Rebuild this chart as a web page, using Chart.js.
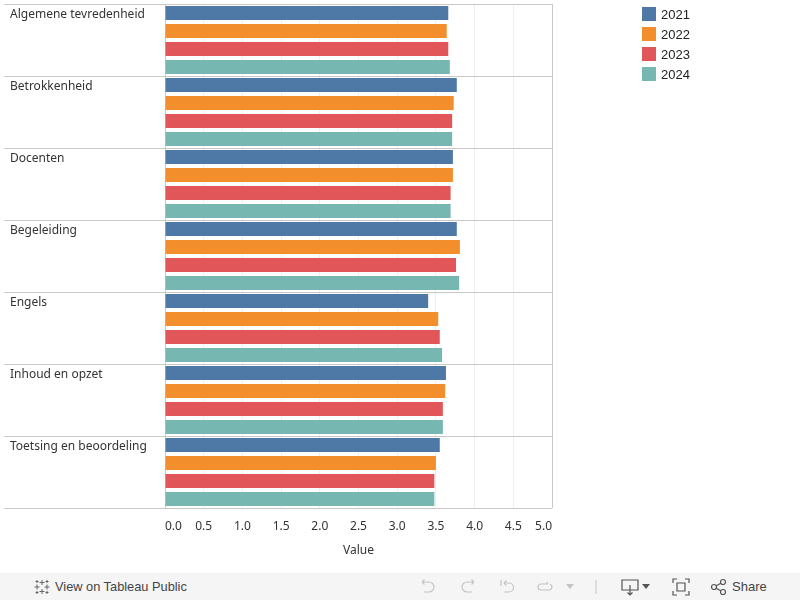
<!DOCTYPE html>
<html>
<head>
<meta charset="utf-8">
<script src="https://cdn.jsdelivr.net/npm/chart.js@4"></script>
<style>
  html, body { margin: 0; padding: 0; background: #fff; }
  #wrap { position: absolute; left: 0; top: 0; width: 800px; height: 573px; }
  #footer {
    position: absolute; left: 0; top: 573px; width: 800px; height: 27px;
    background: #f5f5f5; font-family: "Liberation Sans", Arial, sans-serif;
    font-size: 12.8px; color: #444;
  }
  #footer .item { position: absolute; top: 0; height: 27px; line-height: 27px; }
  #footer svg { position: absolute; }
</style>
</head>
<body>
<div id="wrap"><canvas id="chart" width="800" height="573"></canvas></div>
<div id="footer">
  <svg style="left:33px;top:5px" width="18" height="18" viewBox="0 0 18 18" stroke="#666" stroke-width="1" fill="none">
    <path d="M9 2v5M6.5 4.5h5M9 11v5M6.5 13.5h5M4 6.5v5M1.5 9h5M14 6.5v5M11.5 9h5M4 2v3M2.5 3.5h3M14 2v3M12.5 3.5h3M4 13v3M2.5 14.5h3M14 13v3M12.5 14.5h3"/>
  </svg>
  <span class="item" style="left:55px">View on Tableau Public</span>
  <svg style="left:419px;top:6px" width="18" height="16" viewBox="0 0 18 16" stroke="#c4c4c4" stroke-width="1.2" fill="none">
    <path d="M3 3h7a5 5 0 0 1 0 10H5M3 3l2.5-2.5M3 3l2.5 2.5"/>
  </svg>
  <svg style="left:459px;top:6px" width="18" height="16" viewBox="0 0 18 16" stroke="#c4c4c4" stroke-width="1.2" fill="none">
    <path d="M15 3H8a5 5 0 0 0 0 10h5M15 3l-2.5-2.5M15 3l-2.5 2.5"/>
  </svg>
  <svg style="left:499px;top:6px" width="18" height="16" viewBox="0 0 18 16" stroke="#c4c4c4" stroke-width="1.2" fill="none">
    <path d="M5 4h5a4.5 4.5 0 0 1 0 9H5M5 4l2.5-2.5M5 4l2.5 2.5M2 1v6"/>
  </svg>
  <svg style="left:536px;top:6px" width="18" height="16" viewBox="0 0 18 16" stroke="#c4c4c4" stroke-width="1.2" fill="none">
    <path d="M12 5H5a3 3 0 0 0 0 6h8a3 3 0 0 0 1-5.8M12 5l-1.5-2"/>
  </svg>
  <svg style="left:566px;top:11px" width="8" height="6" viewBox="0 0 8 6" fill="#c4c4c4"><path d="M0 0h8L4 5z"/></svg>
  <svg style="left:595px;top:7px" width="2" height="14" viewBox="0 0 2 14" stroke="#c4c4c4"><path d="M1 0v14"/></svg>
  <svg style="left:621px;top:6px" width="20" height="18" viewBox="0 0 20 18" stroke="#555" stroke-width="1.2" fill="none">
    <path d="M1 1h16v10H1zM9 6v10M6.5 13.5L9 16l2.5-2.5"/>
  </svg>
  <svg style="left:642px;top:11px" width="8" height="6" viewBox="0 0 8 6" fill="#555"><path d="M0 0h8L4 5z"/></svg>
  <svg style="left:672px;top:5px" width="18" height="18" viewBox="0 0 18 18" stroke="#555" stroke-width="1.2" fill="none">
    <path d="M1 5V1h4M13 1h4v4M17 13v4h-4M5 17H1v-4M5 5h8v8H5z"/>
  </svg>
  <svg style="left:710px;top:5px" width="18" height="18" viewBox="0 0 18 18" stroke="#555" stroke-width="1.2" fill="none">
    <circle cx="4" cy="9" r="2.5"/><circle cx="13" cy="4" r="2.5"/><circle cx="13" cy="14" r="2.5"/><path d="M6.2 7.8l4.6-2.6M6.2 10.2l4.6 2.6"/>
  </svg>
  <span class="item" style="left:732px;font-size:13px">Share</span>
</div>
<script>
// categories (rows) and years
const categories = ['Algemene tevredenheid', 'Betrokkenheid', 'Docenten', 'Begeleiding', 'Engels', 'Inhoud en opzet', 'Toetsing en beoordeling'];
const years = ['2021', '2022', '2023', '2024'];
const colors = ['#4e79a7', '#f28e2b', '#e15759', '#76b7b2'];

// values per year, same order as categories
const values2021 = [3.66, 3.77, 3.72, 3.77, 3.40, 3.63, 3.55];
const values2022 = [3.64, 3.73, 3.72, 3.81, 3.53, 3.62, 3.50];
const values2023 = [3.66, 3.71, 3.69, 3.76, 3.55, 3.59, 3.48];
const values2024 = [3.68, 3.71, 3.69, 3.80, 3.58, 3.59, 3.48];
const seriesValues = [values2021, values2022, values2023, values2024];

const xMin = 0, xMax = 5, xStep = 0.5;

const labelFont = '12px "Noto Sans", sans-serif';
const textColor = '#333';

// row labels drawn at the top-left of each band, Tableau style
const rowLabels = {
  id: 'rowLabels',
  afterDraw(chart) {
    const ctx = chart.ctx;
    const y = chart.scales.y;
    const band = y.getPixelForValue(1) - y.getPixelForValue(0);
    ctx.save();
    ctx.font = labelFont;
    ctx.fillStyle = textColor;
    ctx.textAlign = 'left';
    ctx.textBaseline = 'middle';
    categories.forEach((c, i) => {
      const top = y.getPixelForValue(i) - band / 2;
      ctx.fillText(c, 10, top + 11);
    });
    ctx.restore();
  }
};

// legend in the right column
const sideLegend = {
  id: 'sideLegend',
  afterDraw(chart) {
    const ctx = chart.ctx;
    ctx.save();
    ctx.font = '13px "Liberation Sans", Arial, sans-serif';
    ctx.textBaseline = 'middle';
    chart.data.datasets.forEach((ds, i) => {
      const cy = 14 + i * 20;
      ctx.fillStyle = ds.backgroundColor;
      ctx.fillRect(642, cy - 7, 14, 14);
      ctx.fillStyle = '#222';
      ctx.fillText(ds.label, 661, cy + 1);
    });
    ctx.restore();
  }
};

new Chart(document.getElementById('chart'), {
  type: 'bar',
  data: {
    labels: categories,
    datasets: years.map((yr, i) => ({
      label: yr,
      data: seriesValues[i],
      backgroundColor: colors[i],
      borderWidth: 0,
      categoryPercentage: 1,
      barPercentage: 14 / 18
    }))
  },
  options: {
    indexAxis: 'y',
    responsive: false,
    animation: false,
    layout: { padding: { left: 4, top: 4, right: 248, bottom: 0 } },
    plugins: {
      legend: { display: false },
      tooltip: { enabled: false }
    },
    scales: {
      x: {
        min: xMin,
        max: xMax,
        afterFit: s => { s.height = 65; },
        ticks: {
          stepSize: xStep,
          align: 'inner',
          padding: 11,
          color: textColor,
          font: { family: '"Noto Sans", sans-serif', size: 12 },
          callback: v => Number(v).toFixed(1)
        },
        grid: {
          drawTicks: false,
          color: ctx => (ctx.tick && ctx.tick.value === xMax) ? '#c8c8c8' : '#efefef'
        },
        border: { display: false },
        title: {
          display: true,
          text: 'Value',
          color: textColor,
          font: { family: '"Noto Sans", sans-serif', size: 12 },
          padding: { top: 8, bottom: 15 }
        }
      },
      y: {
        ticks: { display: false },
        grid: {
          offset: true,
          color: '#c8c8c8',
          tickLength: 161,
          tickColor: '#c8c8c8'
        },
        border: { display: true, color: '#c8c8c8' }
      }
    }
  },
  plugins: [rowLabels, sideLegend]
});
</script>
</body>
</html>
